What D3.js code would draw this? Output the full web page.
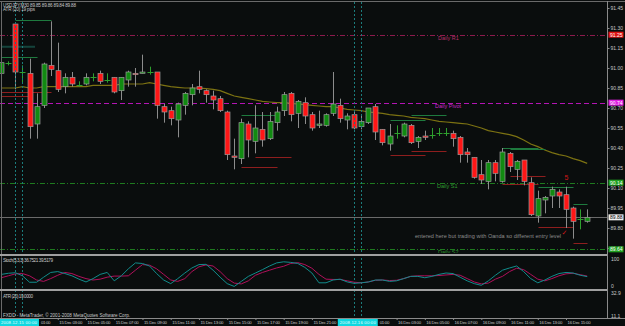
<!DOCTYPE html>
<html>
<head>
<meta charset="utf-8">
<script src="https://cdn.jsdelivr.net/npm/d3@7"></script>
<style>
    body { margin: 0; background: #000; }
    svg { display: block; }
    text { font-family: "Liberation Sans", Arial, sans-serif; }
</style>
</head>
<body>
<div id="canvas"></div>
<script>
const width = 625;
const height = 326;

// ---------- data ----------
const symbol = "USDJPY,M30";
const quote = [89.85, 89.86, 89.84, 89.88];
const atrPips = 19;
const firstBar = "2008-12-14 23:00";

const opens = [90.96, 91.04, 91.33, 90.97, 90.96, 90.58, 90.72, 91.02, 90.98, 90.86,
    90.93, 90.87, 90.88, 90.93, 90.96, 90.91, 90.93, 90.83, 90.91, 90.96,
    90.96, 90.97, 90.97, 90.71, 90.68, 90.61, 90.72, 90.80, 90.86, 90.83,
    90.79, 90.77, 90.67, 90.34, 90.32, 90.58, 90.45, 90.54, 90.47, 90.59,
    90.68, 90.81, 90.66, 90.74, 90.65, 90.57, 90.57, 90.66, 90.72, 90.61,
    90.65, 90.56, 90.59, 90.71, 90.54, 90.43, 90.51, 90.49, 90.57, 90.45,
    90.49, 90.50, 90.51, 90.51, 90.51, 90.48, 90.37, 90.33, 90.20, 90.15,
    90.29, 90.15, 90.36, 90.24, 90.31, 90.14, 89.89, 90.01, 90.04, 90.07,
    90.05, 89.95, 89.87, 89.85];
const highs = [91.06, 91.05, 91.34, 91.02, 91.07, 90.81, 91.04, 91.35, 91.19, 90.96,
    90.97, 90.90, 90.96, 90.96, 90.98, 90.96, 90.93, 90.93, 90.98, 91.00,
    91.10, 91.01, 90.97, 90.73, 90.71, 90.74, 90.82, 90.88, 90.98, 90.84,
    90.83, 90.79, 90.68, 90.47, 90.62, 90.60, 90.72, 90.67, 90.67, 90.71,
    90.82, 90.82, 90.76, 90.78, 90.67, 90.68, 90.66, 90.97, 90.77, 90.66,
    90.67, 90.65, 90.70, 90.73, 90.54, 90.58, 90.57, 90.59, 90.58, 90.49,
    90.53, 90.55, 90.55, 90.55, 90.53, 90.49, 90.40, 90.33, 90.31, 90.31,
    90.31, 90.40, 90.37, 90.31, 90.31, 90.18, 90.08, 90.04, 90.11, 90.09,
    90.11, 89.96, 89.94, 89.94];
const lows = [90.93, 91.02, 90.84, 90.89, 90.47, 90.47, 90.70, 90.94, 90.82, 90.81,
    90.86, 90.86, 90.87, 90.90, 90.88, 90.89, 90.81, 90.76, 90.86, 90.86,
    90.96, 90.95, 90.62, 90.59, 90.57, 90.48, 90.65, 90.72, 90.81, 90.74,
    90.69, 90.67, 90.31, 90.24, 90.28, 90.33, 90.36, 90.41, 90.46, 90.53,
    90.64, 90.60, 90.55, 90.58, 90.53, 90.55, 90.56, 90.64, 90.59, 90.54,
    90.54, 90.54, 90.58, 90.46, 90.42, 90.38, 90.47, 90.48, 90.43, 90.40,
    90.46, 90.47, 90.49, 90.49, 90.41, 90.29, 90.29, 90.17, 90.13, 90.09,
    90.15, 90.14, 90.22, 90.16, 90.12, 89.89, 89.84, 89.91, 89.95, 89.95,
    89.80, 89.72, 89.79, 89.84];
const closes = [91.04, 91.04, 90.97, 90.97, 90.56, 90.71, 91.03, 90.99, 90.84, 90.93,
    90.88, 90.87, 90.93, 90.93, 90.90, 90.91, 90.82, 90.93, 90.97, 90.95,
    90.97, 90.97, 90.72, 90.67, 90.62, 90.73, 90.81, 90.85, 90.84, 90.80,
    90.76, 90.68, 90.35, 90.33, 90.59, 90.46, 90.55, 90.46, 90.60, 90.67,
    90.80, 90.65, 90.75, 90.64, 90.55, 90.58, 90.65, 90.73, 90.62, 90.64,
    90.55, 90.60, 90.70, 90.52, 90.44, 90.49, 90.51, 90.58, 90.44, 90.48,
    90.48, 90.50, 90.51, 90.51, 90.47, 90.35, 90.35, 90.18, 90.16, 90.29,
    90.21, 90.37, 90.26, 90.30, 90.15, 89.90, 90.02, 90.03, 90.09, 90.04,
    89.94, 89.85, 89.87, 89.88];

// moving average on the price chart
const maValues = [90.85, 90.85, 90.85, 90.86, 90.85, 90.85, 90.86, 90.86, 90.86, 90.86,
    90.86, 90.86, 90.86, 90.87, 90.87, 90.87, 90.87, 90.88, 90.88, 90.88,
    90.88, 90.89, 90.88, 90.87, 90.86, 90.855, 90.85, 90.85, 90.85, 90.845,
    90.84, 90.83, 90.81, 90.79, 90.78, 90.77, 90.76, 90.75, 90.745, 90.74,
    90.74, 90.735, 90.73, 90.725, 90.72, 90.715, 90.71, 90.71, 90.70, 90.69,
    90.685, 90.68, 90.67, 90.665, 90.66, 90.65, 90.645, 90.64, 90.63, 90.625,
    90.62, 90.61, 90.60, 90.595, 90.59, 90.585, 90.58, 90.565, 90.55, 90.53,
    90.52, 90.51, 90.50, 90.485, 90.46, 90.43, 90.41, 90.385, 90.365, 90.35,
    90.34, 90.32, 90.305, 90.285];

// Stoch(5,3,3)
const stochMain = [45, 49, 51, 40, 17, 17, 35, 52, 55, 48,
    40, 28, 18, 30, 45, 52, 22, 40, 65, 86,
    84, 75, 48, 25, 12, 30, 50, 68, 80, 81,
    60, 35, 12, 2, 20, 38, 50, 62, 75, 86,
    90, 88, 84, 70, 50, 15, 15, 25, 28, 18,
    13, 15, 18, 25, 25, 20, 22, 30, 38, 38,
    33, 38, 45, 50, 48, 35, 22, 12, 6, 22,
    42, 60, 68, 75, 55, 30, 15, 25, 38, 48,
    52, 50, 42, 37];
const stochSignal = [33, 40, 47, 48, 40, 25, 20, 30, 42, 52,
    48, 38, 30, 25, 28, 35, 39, 39, 40, 60,
    80, 78, 65, 45, 25, 20, 30, 55, 72, 79,
    75, 55, 30, 14, 11, 22, 42, 52, 60, 68,
    74, 84, 87, 80, 67, 45, 28, 27, 27, 22,
    17, 15, 18, 24, 25, 23, 24, 30, 38, 40,
    40, 40, 41, 43, 45, 42, 30, 18, 11, 14,
    28, 38, 55, 67, 62, 45, 28, 22, 30, 40,
    47, 49, 44, 39];
const stochLabel = "Stoch(5,3,3) 36.7521 39.5179";
const atrLabel = "ATR (20) 19.0000";
const atrScale = [32.9, 11.1];

// daily pivot levels
const pivotNames = ["Daily R1", "Daily Pivot", "Daily S1", "Daily S2"];
const pivotValues = [91.25, 90.74, 90.14, 89.64];

// short high / low levels drawn by the indicator (bar from, bar to, price)
const highFrom = [2, 0, 34, 58, 55, 71, 72, 76, 81];
const highTo = [7, 5, 39, 63, 60, 76, 77, 81, 83];
const highPrice = [91.36, 91.08, 90.65, 90.65, 90.61, 90.40, 90.39, 90.11, 89.98];
const lowFrom = [0, 0, 36, 34, 58, 55, 72, 71, 76, 81];
const lowTo = [7, 4, 41, 39, 63, 60, 77, 76, 81, 83];
const lowPrice = [90.82, 90.79, 90.33, 90.26, 90.38, 90.35, 90.19, 90.13, 89.81, 89.69];
const bandFrom = [0];
const bandTo = [4];
const bandPrice = [91.16];

const priceTicks = [91.45, 91.30, 91.15, 91.00, 90.85, 90.70, 90.55, 90.40,
    90.25, 90.10, 89.95, 89.80, 89.65];
const timeLabels = ["15 Dec 01:00", "15 Dec 03:00", "15 Dec 05:00", "15 Dec 07:00",
    "15 Dec 09:00", "15 Dec 11:00", "15 Dec 13:00", "15 Dec 15:00", "15 Dec 17:00",
    "15 Dec 19:00", "15 Dec 21:00", "15 Dec 23:00", "16 Dec 01:00", "16 Dec 03:00",
    "16 Dec 05:00", "16 Dec 07:00", "16 Dec 09:00", "16 Dec 11:00", "16 Dec 13:00",
    "16 Dec 15:00"];
const dayStarts = ["2008.12.15 00:00", "2008.12.16 00:00"];
const note = "entered here but trading with Oanda so different entry level";
const notePrice = 89.74;
const markerBar = 80;
const markerHigh = 90.18;
const markerLow = 89.77;


// ---------- setup ----------
const svg = d3.select("#canvas")
    .append("svg")
    .attr("width", width)
    .attr("height", height);

svg.append("rect")
    .attr("width", width)
    .attr("height", height)
    .attr("fill", "#0a0d0d");

const plotRight = 607.5;
const mainTop = 2, mainBottom = 253;
const atrBottom = 318;
const axisText = "#c8c8c8";

const parseBar = d3.timeParse("%Y-%m-%d %H:%M");
const t0 = parseBar(firstBar);
const barTime = i => d3.timeMinute.offset(t0, 30 * i);

const x = d3.scaleTime()
    .domain([t0, barTime(opens.length - 1)])
    .range([1.3, 587.2]);

const y = d3.scaleLinear()
    .domain([89.65, 91.45])
    .range([248, 8]);

const yStoch = d3.scaleLinear()
    .domain([0, 100])
    .range([287, 259]);

const bars = opens.map((o, i) => ({
    t: barTime(i), o: o, h: highs[i], l: lows[i], c: closes[i]
}));

const px = t => Math.round(x(t)) + 0.5;
const py = v => Math.round(y(v)) + 0.5;

svg.append("clipPath").attr("id", "mainClip")
    .append("rect")
    .attr("x", 0).attr("y", mainTop)
    .attr("width", plotRight).attr("height", mainBottom - mainTop);

const main = svg.append("g").attr("clip-path", "url(#mainClip)");


// ---------- pivot lines ----------
const pivotColors = ["#8c1a4c", "#b414b4", "#1f7a1f", "#1f7a1f"];
const pivotDash = ["5,2,1,2", "5,3", "5,2,1,2", "5,2,1,2"];
const pivotText = ["#b8306a", "#c828c8", "#2f9a2f", "#2f9a2f"];

pivotValues.forEach((v, i) => {
    main.append("line")
        .attr("x1", 0).attr("x2", plotRight)
        .attr("y1", py(v)).attr("y2", py(v))
        .attr("stroke", pivotColors[i])
        .attr("stroke-width", 1)
        .attr("stroke-dasharray", pivotDash[i]);
});

// bid line
main.append("line")
    .attr("x1", 0).attr("x2", plotRight)
    .attr("y1", py(quote[3])).attr("y2", py(quote[3]))
    .attr("stroke", "#6a6a6a")
    .attr("stroke-width", 1);

// day separators
const daySep = [2, 3, 50, 51];
daySep.forEach(b => {
    svg.append("line")
        .attr("x1", px(barTime(b))).attr("x2", px(barTime(b)))
        .attr("y1", mainTop).attr("y2", atrBottom)
        .attr("stroke", "#1b7c7c")
        .attr("stroke-dasharray", "2,2");
});


// ---------- moving average ----------
const maLine = d3.line()
    .x((d, i) => x(barTime(i)))
    .y(d => y(d));

main.append("path")
    .datum(maValues)
    .attr("fill", "none")
    .attr("stroke", "#7c7212")
    .attr("stroke-width", 1.2)
    .attr("d", maLine);


// ---------- high / low levels ----------
highPrice.forEach((p, i) => {
    main.append("line")
        .attr("x1", px(barTime(highFrom[i]))).attr("x2", px(barTime(highTo[i])))
        .attr("y1", py(p)).attr("y2", py(p))
        .attr("stroke", "#1e7a3e")
        .attr("stroke-width", 1.2);
});

lowPrice.forEach((p, i) => {
    main.append("line")
        .attr("x1", px(barTime(lowFrom[i]))).attr("x2", px(barTime(lowTo[i])))
        .attr("y1", py(p)).attr("y2", py(p))
        .attr("stroke", "#8e1e1e")
        .attr("stroke-width", 1.2);
});

bandPrice.forEach((p, i) => {
    main.append("line")
        .attr("x1", px(barTime(bandFrom[i]))).attr("x2", px(barTime(bandTo[i])) + 4)
        .attr("y1", y(p)).attr("y2", y(p))
        .attr("stroke", "#1f7a6a")
        .attr("stroke-width", 2)
        .attr("stroke-dasharray", "1,1");
});


// ---------- candles ----------
const candle = main.selectAll("g.candle")
    .data(bars)
    .join("g")
    .attr("class", "candle");

candle.append("line")
    .attr("x1", d => px(d.t)).attr("x2", d => px(d.t))
    .attr("y1", d => y(d.h)).attr("y2", d => y(d.l))
    .attr("stroke", d => d.o === d.c ? "#2ea02e" : "#8c8c8c")
    .attr("stroke-width", 1);

candle.filter(d => d.o !== d.c)
    .append("rect")
    .attr("x", d => px(d.t) - 2.5)
    .attr("width", 5)
    .attr("y", d => y(Math.max(d.o, d.c)))
    .attr("height", d => Math.max(1, Math.abs(y(d.o) - y(d.c))))
    .attr("fill", d => d.c > d.o ? "#118a11" : "#ff1616")
    .attr("stroke", "#9a9a9a")
    .attr("stroke-width", 0.7);

candle.filter(d => d.o === d.c)
    .append("line")
    .attr("x1", d => px(d.t) - 3).attr("x2", d => px(d.t) + 3)
    .attr("y1", d => py(d.o)).attr("y2", d => py(d.o))
    .attr("stroke", "#2ea02e")
    .attr("stroke-width", 1);


// ---------- labels on the price chart ----------
const pivotLabelX = [438, 435, 437, 438];
pivotNames.forEach((n, i) => {
    main.append("text")
        .attr("x", pivotLabelX[i])
        .attr("y", y(pivotValues[i]) + 5)
        .attr("fill", pivotText[i])
        .attr("font-size", 5.5)
        .text(n);
});

main.append("text")
    .attr("x", 415)
    .attr("y", y(notePrice) + 2)
    .attr("fill", "#8e8e8e")
    .attr("font-size", 5.5)
    .attr("textLength", 146)
    .text(note);

main.append("text")
    .attr("x", px(barTime(markerBar)) - 2)
    .attr("y", y(markerHigh) + 3)
    .attr("fill", "#d01818")
    .attr("font-size", 7)
    .text("5");

main.append("text")
    .attr("x", px(barTime(markerBar)) - 5)
    .attr("y", y(markerLow) + 3)
    .attr("fill", "#d01818")
    .attr("font-size", 7)
    .style("font-family", "DejaVu Sans")
    .text("\u2713");

svg.append("text")
    .attr("x", 3).attr("y", 6.5)
    .attr("fill", axisText)
    .attr("font-size", 4.6)
    .attr("textLength", 73)
    .text(symbol + "  " + quote.map(d3.format(".2f")).join(" "));

svg.append("text")
    .attr("x", 3).attr("y", 11)
    .attr("fill", axisText)
    .attr("font-size", 4.6)
    .attr("textLength", 32)
    .text("ATR (20) " + atrPips + " pips");


// ---------- stochastic ----------
const stochLine = d3.line()
    .x((d, i) => x(barTime(i)))
    .y(d => yStoch(d));

svg.append("path")
    .datum(stochSignal)
    .attr("fill", "none")
    .attr("stroke", "#b0105a")
    .attr("stroke-width", 1)
    .attr("d", stochLine);

svg.append("path")
    .datum(stochMain)
    .attr("fill", "none")
    .attr("stroke", "#118c8c")
    .attr("stroke-width", 1)
    .attr("d", stochLine);

svg.append("text")
    .attr("x", 3).attr("y", 262)
    .attr("fill", axisText)
    .attr("font-size", 4.6)
    .attr("textLength", 50)
    .text(stochLabel);

svg.append("text")
    .attr("x", 3).attr("y", 298)
    .attr("fill", axisText)
    .attr("font-size", 4.6)
    .attr("textLength", 30)
    .text(atrLabel);

svg.append("text")
    .attr("x", 3).attr("y", 316.5)
    .attr("fill", axisText)
    .attr("font-size", 4.6)
    .attr("textLength", 127)
    .text("FXDD - MetaTrader, \u00a9 2001-2008 MetaQuotes Software Corp.");


// ---------- frames ----------
const frame = "#8a8a8a";
svg.append("line").attr("x1", 0).attr("x2", width).attr("y1", 1.5).attr("y2", 1.5)
    .attr("stroke", "#6a6a6a");
svg.append("line").attr("x1", 1.5).attr("x2", 1.5).attr("y1", 1).attr("y2", atrBottom)
    .attr("stroke", "#6a6a6a");
svg.append("rect").attr("x", 0).attr("y", 254).attr("width", plotRight).attr("height", 2)
    .attr("fill", "#a0a0a0");
svg.append("rect").attr("x", 0).attr("y", 289).attr("width", plotRight).attr("height", 2)
    .attr("fill", "#a0a0a0");
svg.append("line").attr("x1", 0).attr("x2", width).attr("y1", atrBottom + 0.5).attr("y2", atrBottom + 0.5)
    .attr("stroke", frame);
svg.append("line").attr("x1", plotRight).attr("x2", plotRight).attr("y1", 1).attr("y2", atrBottom)
    .attr("stroke", frame);


// ---------- price axis ----------
const priceAxis = svg.append("g")
    .attr("transform", `translate(${plotRight},0)`)
    .call(d3.axisRight(y).tickValues(priceTicks).tickFormat(d3.format(".2f")).tickSize(2));

priceAxis.select(".domain").remove();
priceAxis.selectAll("line").attr("stroke", frame);
priceAxis.selectAll("text")
    .attr("x", 3)
    .attr("fill", axisText)
    .attr("font-size", 5)
    .attr("font-family", "Liberation Sans, Arial, sans-serif");

// level boxes on the price axis
const boxValues = pivotValues.concat([quote[3]]);
const boxFill = ["#e01414", "#e020e0", "#20a020", "#20a020", "#f0f0f0"];
const boxText = ["#ffffff", "#ffffff", "#ffffff", "#ffffff", "#000000"];
boxValues.forEach((v, i) => {
    svg.append("rect")
        .attr("x", plotRight + 1)
        .attr("y", y(v) - 3)
        .attr("width", 15)
        .attr("height", 6)
        .attr("fill", boxFill[i]);
    svg.append("text")
        .attr("x", plotRight + 2.5)
        .attr("y", y(v) + 2)
        .attr("fill", boxText[i])
        .attr("font-size", 5)
        .text(d3.format(".2f")(v));
});

// stochastic and ATR scales
[[100, 261], [0, 288]].forEach(d => {
    svg.append("text")
        .attr("x", 611).attr("y", d[1])
        .attr("fill", axisText).attr("font-size", 5)
        .text(d[0]);
});
atrScale.forEach((v, i) => {
    svg.append("text")
        .attr("x", 611).attr("y", i === 0 ? 295 : 317.5)
        .attr("fill", axisText).attr("font-size", 5)
        .text(v);
});


// ---------- time axis ----------
const parseLabel = d3.timeParse("%Y %d %b %H:%M");
const tickDates = timeLabels.map(l => parseLabel("2008 " + l));
const labelWidth = 23;

// the highlighted day-start boxes cover part of the axis
const boxes = dayStarts.map((s, i) => {
    const mid = (x(barTime(daySep[i * 2])) + x(barTime(daySep[i * 2 + 1]))) / 2;
    return { text: s, x0: mid - 20, x1: mid + 20 };
});
const coveredBy = px0 => boxes.find(b => px0 >= b.x0 && px0 <= b.x1);

const timeAxis = svg.append("g")
    .attr("transform", `translate(0,${atrBottom})`)
    .call(d3.axisBottom(x).tickValues(tickDates).tickFormat((d, i) => timeLabels[i]).tickSize(2));

timeAxis.select(".domain").remove();
timeAxis.selectAll("line").attr("stroke", frame);
timeAxis.selectAll(".tick").each(function(d, i) {
    const tx = x(d);
    const box = coveredBy(tx);
    const label = d3.select(this).select("text")
        .attr("text-anchor", "start")
        .attr("y", 2.5)
        .attr("fill", axisText)
        .attr("font-size", 4.3)
        .attr("font-family", "Liberation Sans, Arial, sans-serif");
    if (!box) {
        label.attr("x", 1).attr("textLength", labelWidth);
    } else if (tx + labelWidth > box.x1 + 6) {
        // only the hour part peeks out from behind the box
        label.text(timeLabels[i].slice(7))
            .attr("x", box.x1 + 1.5 - tx)
            .attr("textLength", 9.5);
    } else {
        label.remove();
    }
});

// highlighted day starts
boxes.forEach(b => {
    svg.append("rect")
        .attr("x", b.x0).attr("y", atrBottom + 1)
        .attr("width", b.x1 - b.x0).attr("height", 7)
        .attr("fill", "#10d8e0");
    svg.append("text")
        .attr("x", b.x0 + 2).attr("y", atrBottom + 6.3)
        .attr("fill", "#e8ffff")
        .attr("font-size", 4.3)
        .attr("textLength", 36)
        .text(b.text);
});
</script>
</body>
</html>
